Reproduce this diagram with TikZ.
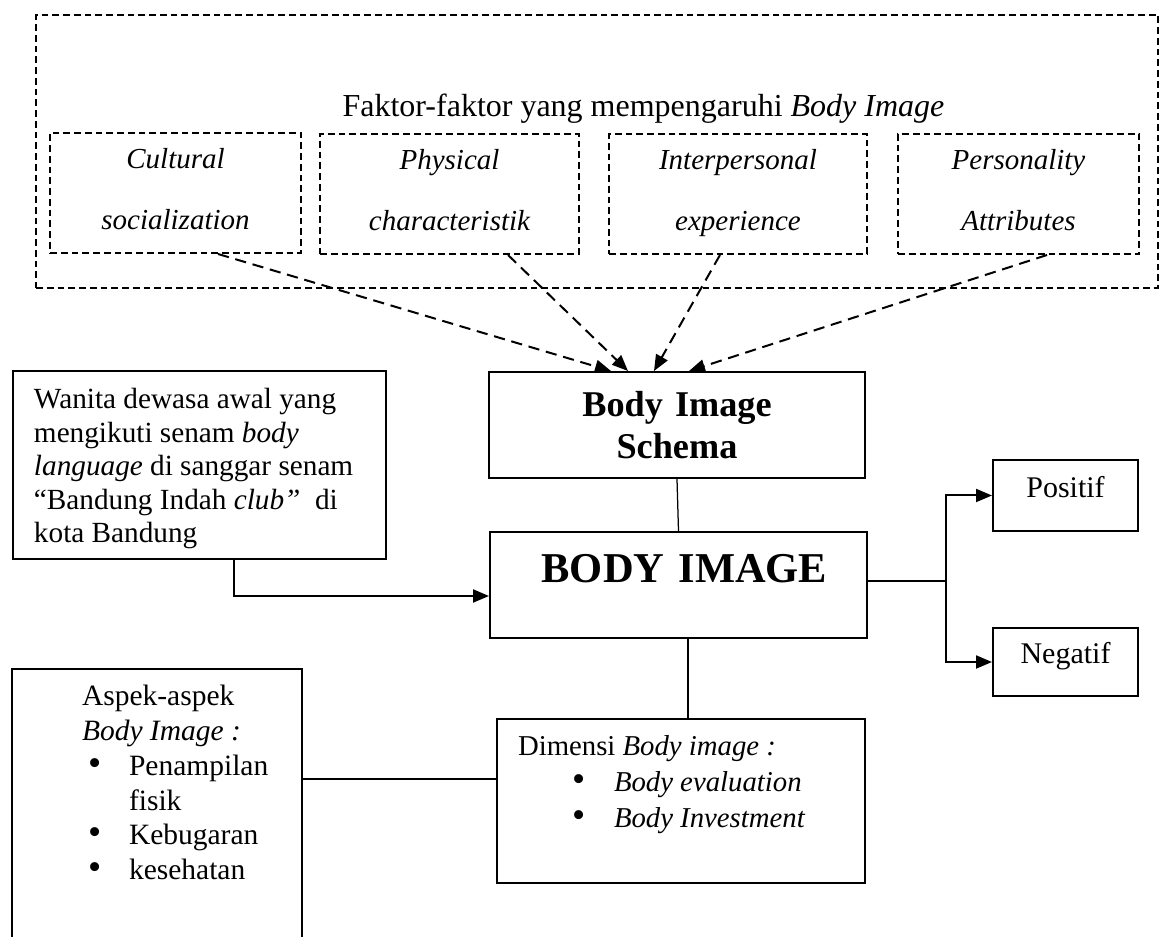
\documentclass[tikz,border=0pt]{standalone}
\usepackage{fontspec}
\setmainfont{Liberation Serif}
\usepackage{tikz}
\usetikzlibrary{arrows.meta,positioning}

\newcommand{\poin}[2]{\hspace*{#1}\makebox[#2][l]{{\fontsize{15}{0}\selectfont\textbullet}}}

\begin{document}
\begin{tikzpicture}[
  x=0.4pt, y=-0.4pt,
  every node/.style={font=\fontsize{12}{13.8}\selectfont},
  solidbox/.style={draw,line width=0.8pt,inner sep=0pt,anchor=north west},
  dashbox/.style={draw,line width=0.8pt,dash pattern=on 2.7pt off 1.6pt,inner sep=0pt,anchor=north west},
  factorbox/.style={dashbox,align=center,text height=14.4pt,text depth=33.6pt,
                    font=\fontsize{11.6}{24.4}\selectfont\itshape},
  arrowline/.style={line width=0.8pt,-{Triangle[length=6.4pt,width=5.2pt]}},
  dasharrow/.style={arrowline,dash pattern=on 4.5pt off 2.7pt},
  plainline/.style={line width=0.5pt},
]
  \useasboundingbox (0,0) rectangle (1162,937);

  % outer frame and its title
  \node[dashbox,minimum width=448.8pt,minimum height=109.2pt] (frame) at (35,14) {};
  \node[anchor=base,font=\fontsize{12.8}{14}\selectfont] (title) at (643.5,117)
    {Faktor-faktor yang mempengaruhi \textit{Body Image}};

  % factor boxes
  \node[factorbox,text width=100.4pt] (f1) at (49,132) {Cultural\\ socialization};
  \node[factorbox,text width=103.6pt] (f2) at (319,133) {Physical\\ characteristik};
  \node[factorbox,text width=103.2pt] (f3) at (608,133) {Interpersonal\\ experience};
  \node[factorbox,text width=96.4pt] (f4) at (897,133) {Personality\\ Attributes};

  % middle row
  \node[solidbox,inner xsep=8.4pt,text width=132.4pt,text height=15.2pt,text depth=60pt,align=flush left,
        font=\fontsize{11.7}{13.4}\selectfont] (wanita) at (12,370)
    {Wanita dewasa awal yang\\ mengikuti senam \textit{body}\\ \textit{language} di sanggar senam\\
     “Bandung Indah \textit{club”}~ di\\ kota Bandung};
  \node[solidbox,text width=150.4pt,text height=18pt,text depth=24.4pt,align=center,
        font=\fontsize{14.5}{16.8}\selectfont\bfseries] (schema) at (488,371) {Body Image\\ Schema};
  \node[solidbox,text width=150.8pt,text height=20.4pt,text depth=22pt,align=center,
        font=\fontsize{17}{20}\selectfont\bfseries] (bodyimg) at (489,531) {\hspace*{4.8pt}BODY IMAGE};
  \node[solidbox,text width=58pt,text height=15.2pt,text depth=13.2pt,align=center] (pos) at (992,459) {Positif};
  \node[solidbox,text width=58pt,text height=14.4pt,text depth=12.8pt,align=center] (neg) at (992,627) {Negatif};

  % bottom row
  \node[solidbox,draw=none,text width=115.2pt,text height=14.4pt,text depth=92.8pt,align=flush left,
        font=\fontsize{11.8}{13.9}\selectfont] (aspek) at (12,669)
    {\hspace*{27.6pt}Aspek-aspek\\ \hspace*{27.6pt}\textit{Body Image :}\\ \poin{30pt}{16.4pt}Penampilan\\
     \hspace*{46.4pt}fisik\\ \poin{30pt}{16.4pt}Kebugaran\\ \poin{30pt}{16.4pt}kesehatan};
  \draw[line width=0.8pt] (aspek.south west) |- (aspek.north east) -- (aspek.south east);
  \node[solidbox,inner xsep=8.4pt,text width=130.4pt,text height=14.8pt,text depth=50.8pt,align=flush left,
        font=\fontsize{11.5}{14.4}\selectfont] (dimensi) at (496,718)
    {Dimensi \textit{Body image :}\\ \poin{21.6pt}{16.8pt}\textit{Body evaluation}\\
     \poin{21.6pt}{16.8pt}\textit{Body Investment}};

  % factors into schema
  \draw[dasharrow] ([xshift=17pt]f1.south) -- ([xshift=-26.4pt]schema.north);
  \draw[dasharrow] ([xshift=23.4pt]f2.south) -- ([xshift=-19.6pt]schema.north);
  \draw[dasharrow] ([xshift=-7.2pt]f3.south) -- ([xshift=-9.2pt]schema.north);
  \draw[dasharrow] ([xshift=11.4pt]f4.south) -- ([xshift=4.8pt]schema.north);

  % connectors
  \draw[plainline] (schema.south) -- (bodyimg.north);
  \draw[arrowline] ([xshift=13.8pt]wanita.south) |- ([yshift=-4.4pt]bodyimg.west);
  \draw[plainline] ([yshift=1.6pt]bodyimg.east) -- ++(31.2pt,0) coordinate (branch);
  \draw[arrowline] (branch) |- (pos.west);
  \draw[arrowline] (branch) |- (neg.west);
  \draw[plainline] ([xshift=3.8pt]bodyimg.south) -- ([xshift=3.8pt]bodyimg.south |- dimensi.north);
  \draw[plainline] ([yshift=10pt]aspek.east) -- ([yshift=10pt]aspek.east -| dimensi.west);
\end{tikzpicture}
\end{document}
